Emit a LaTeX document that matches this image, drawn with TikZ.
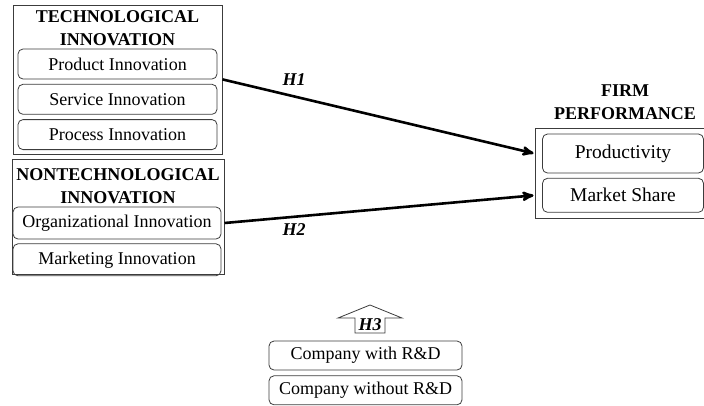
\documentclass[tikz,border=0pt]{standalone}
\usepackage{fontspec}
\setmainfont{Liberation Serif}
\usetikzlibrary{arrows,positioning}
\usepackage{xcolor}
\definecolor{boxgray}{RGB}{60,60,60}

\begin{document}
\begin{tikzpicture}[x=1pt,y=-1pt,>=stealth',font=\fontsize{18}{22}\selectfont]
  \tikzstyle{group}=[draw=boxgray,line width=1pt,inner sep=0pt]
  \tikzstyle{item}=[draw=boxgray,rounded corners=5pt,line width=0.8pt,inner sep=0pt]
  \tikzstyle{title}=[align=center,font=\fontsize{18}{23}\selectfont\bfseries]
  \tikzstyle{hyp}=[line width=2.6pt,->,shorten >=1pt]

  \useasboundingbox (0,0) rectangle (704,405);

  % technological innovation
  \node[group,minimum width=209pt,minimum height=149pt] (tech) at (117.5,79.5) {};
  \node[title] (techT) at (117.5,28) {TECHNOLOGICAL\\INNOVATION};
  \node[item,minimum width=199pt,minimum height=30pt] (prod) at (117.5,64) {Product Innovation};
  \node[item,minimum width=199pt,minimum height=30pt] (serv) [below=4.5pt of prod] {Service Innovation};
  \node[item,minimum width=199pt,minimum height=30pt] (proc) [below=4.5pt of serv] {Process Innovation};

  % nontechnological innovation
  \node[group,minimum width=212pt,minimum height=115pt] (ntech) at (118,216.5) {};
  \node[title] (ntechT) at (118,186) {NONTECHNOLOGICAL\\INNOVATION};
  \node[item,minimum width=208pt,minimum height=32pt] (org) at (117,223) {Organizational Innovation};
  \node[item,minimum width=208pt,minimum height=32pt] (mkt) [below=4pt of org] {Marketing Innovation};

  % firm performance
  \node[title] (firmT) at (625,102) {FIRM\\PERFORMANCE};
  \node[group,minimum width=180pt,minimum height=90pt] (firm) at (625,173) {};
  \node[item,minimum width=161pt,minimum height=39pt,font=\fontsize{19.5}{22}\selectfont] (prodty) at (623,153.5) {Productivity};
  \node[item,minimum width=161pt,minimum height=34pt,font=\fontsize{19.5}{22}\selectfont] (share) [below=4.5pt of prodty] {Market Share};

  % hypotheses
  \draw[hyp] (tech.east |- prod.south) -- (firm.west |- prodty);
  \draw[hyp] (ntech.east |- org) -- (firm.west |- share);
  \node[font=\fontsize{18}{22}\selectfont\bfseries\itshape] (h1) at (294,80) {H1};
  \node[font=\fontsize{18}{22}\selectfont\bfseries\itshape] (h2) at (294,230) {H2};

  % R&D groups
  \node[font=\fontsize{18}{22}\selectfont\bfseries\itshape,inner sep=1pt] (h3) at (370,325) {H3};
  \draw[boxgray,line width=0.8pt] (h3.center) ++(0,-20) -- ++(-32,13) -- ++(17,0) -- ++(0,15)
    -- ++(30,0) -- ++(0,-15) -- ++(17,0) -- cycle;
  \node[item,minimum width=193pt,minimum height=29pt] (withrd) at (365.5,355.5) {Company with R\&D};
  \node[item,minimum width=193pt,minimum height=29pt] (norid) [below=5pt of withrd] {Company without R\&D};
\end{tikzpicture}
\end{document}
